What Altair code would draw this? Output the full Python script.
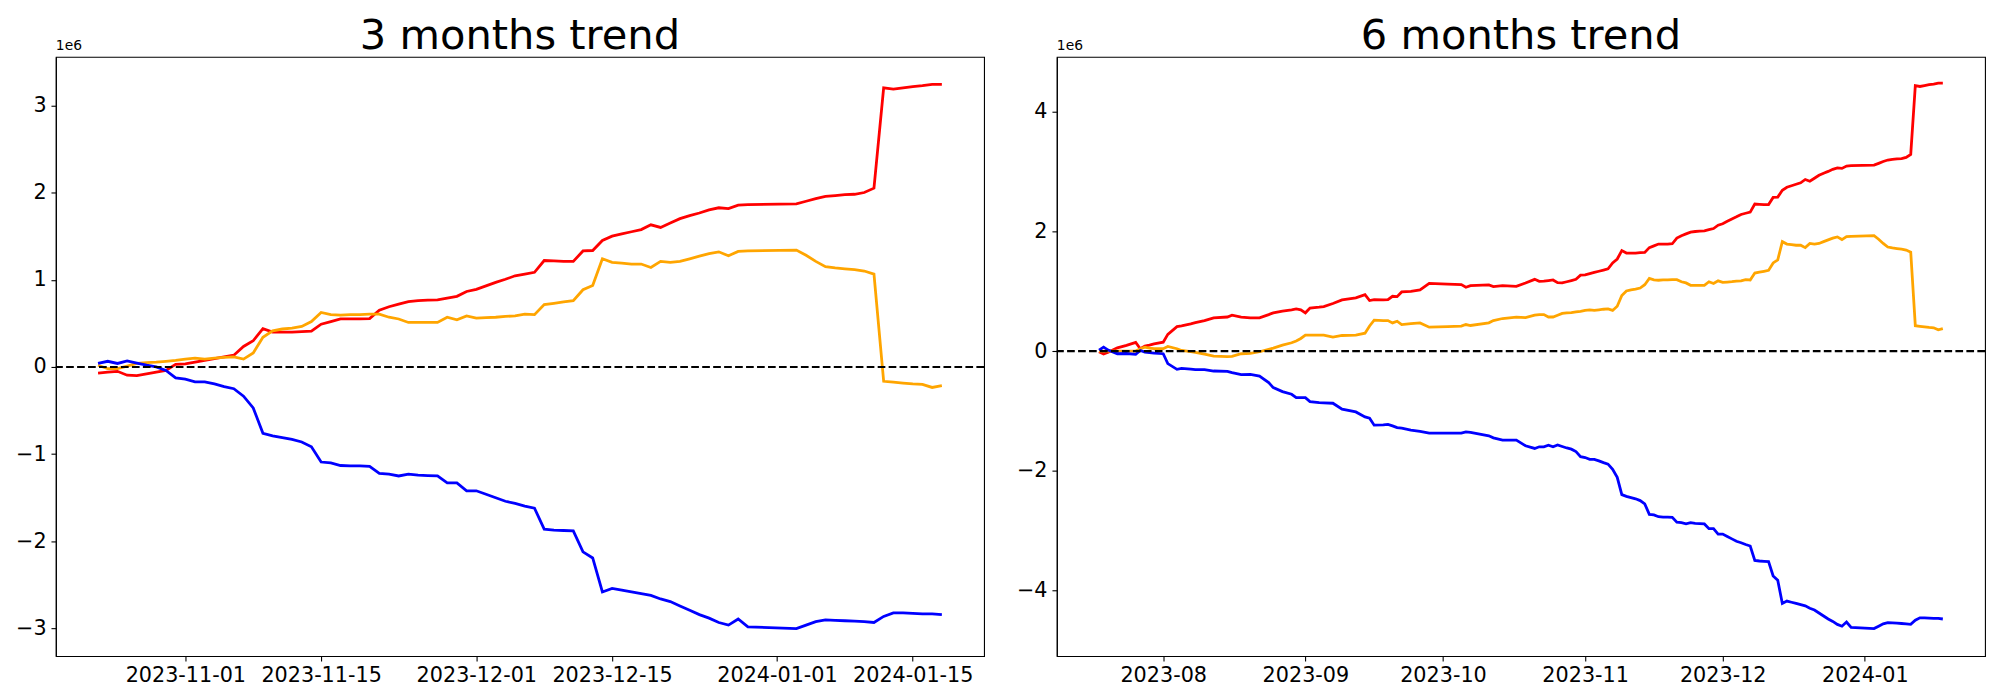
import altair as alt
import pandas as pd

# ---------------- 3 months panel (values in units of 1e6) ----------------
dates3 = [
    "2023-10-23", "2023-10-24", "2023-10-25", "2023-10-26", "2023-10-27", "2023-10-28", "2023-10-29", "2023-10-30", "2023-10-31",
    "2023-11-01", "2023-11-02", "2023-11-03", "2023-11-04", "2023-11-05", "2023-11-06", "2023-11-07", "2023-11-08", "2023-11-09", "2023-11-10",
    "2023-11-11", "2023-11-12", "2023-11-13", "2023-11-14", "2023-11-15", "2023-11-16", "2023-11-17", "2023-11-18", "2023-11-19", "2023-11-20",
    "2023-11-21", "2023-11-22", "2023-11-23", "2023-11-24", "2023-11-25", "2023-11-26", "2023-11-27", "2023-11-28", "2023-11-29", "2023-11-30",
    "2023-12-01", "2023-12-02", "2023-12-03", "2023-12-04", "2023-12-05", "2023-12-06", "2023-12-07", "2023-12-08", "2023-12-09", "2023-12-10",
    "2023-12-11", "2023-12-12", "2023-12-13", "2023-12-14", "2023-12-15", "2023-12-16", "2023-12-17", "2023-12-18", "2023-12-19", "2023-12-20",
    "2023-12-21", "2023-12-22", "2023-12-23", "2023-12-24", "2023-12-25", "2023-12-26", "2023-12-27", "2023-12-28", "2023-12-29",
    "2024-01-03", "2024-01-04", "2024-01-05", "2024-01-06", "2024-01-07", "2024-01-08", "2024-01-09", "2024-01-10", "2024-01-11",
    "2024-01-12", "2024-01-13", "2024-01-14", "2024-01-15", "2024-01-16", "2024-01-17", "2024-01-18",
]
red3 = [
    -0.07, -0.06, -0.05, -0.095, -0.10, -0.08, -0.06, -0.04, 0.03,
    0.035, 0.055, 0.075, 0.095, 0.115, 0.135, 0.235, 0.30, 0.44, 0.40,
    0.40, 0.40, 0.405, 0.41, 0.49, 0.52, 0.55, 0.55, 0.55, 0.555,
    0.65, 0.69, 0.72, 0.75, 0.76, 0.765, 0.77, 0.79, 0.81, 0.865,
    0.89, 0.93, 0.97, 1.005, 1.045, 1.065, 1.085, 1.22, 1.215, 1.21,
    1.21, 1.33, 1.335, 1.45, 1.50, 1.525, 1.55, 1.575, 1.63, 1.60,
    1.65, 1.70, 1.735, 1.765, 1.80, 1.825, 1.815, 1.855, 1.86,
    1.87, 1.90, 1.93, 1.955, 1.965, 1.975, 1.98, 2.0, 2.05,
    3.20, 3.185, 3.20, 3.215, 3.225, 3.24, 3.24,
]
orange3 = [
    0.02, -0.02, -0.02, 0.01, 0.04, 0.05, 0.055, 0.065, 0.075,
    0.09, 0.10, 0.09, 0.10, 0.11, 0.115, 0.09, 0.16, 0.34, 0.415,
    0.435, 0.445, 0.465, 0.52, 0.625, 0.60, 0.595, 0.60, 0.60, 0.605,
    0.605, 0.57, 0.55, 0.51, 0.51, 0.51, 0.51, 0.57, 0.54, 0.585,
    0.56, 0.565, 0.57, 0.58, 0.585, 0.605, 0.60, 0.715, 0.73, 0.745,
    0.76, 0.885, 0.935, 1.24, 1.20, 1.19, 1.18, 1.18, 1.14, 1.21,
    1.20, 1.21, 1.24, 1.27, 1.30, 1.32, 1.275, 1.325, 1.33,
    1.34, 1.28, 1.21, 1.15, 1.135, 1.125, 1.115, 1.10, 1.065,
    -0.165, -0.175, -0.185, -0.195, -0.20, -0.235, -0.215,
]
blue3 = [
    0.04, 0.065, 0.04, 0.07, 0.045, 0.02, 0.0, -0.04, -0.125,
    -0.14, -0.17, -0.17, -0.195, -0.225, -0.25, -0.335, -0.47, -0.76, -0.79,
    -0.81, -0.83, -0.86, -0.915, -1.09, -1.10, -1.13, -1.135, -1.135, -1.14,
    -1.22, -1.23, -1.25, -1.23, -1.24, -1.245, -1.25, -1.33, -1.33, -1.42,
    -1.42, -1.46, -1.50, -1.54, -1.565, -1.595, -1.62, -1.86, -1.87, -1.875,
    -1.88, -2.12, -2.19, -2.58, -2.54, -2.56, -2.58, -2.60, -2.62, -2.66,
    -2.69, -2.74, -2.79, -2.84, -2.88, -2.93, -2.96, -2.89, -2.98,
    -3.0, -2.96, -2.92, -2.90, -2.905, -2.91, -2.915, -2.92, -2.93,
    -2.86, -2.82, -2.82, -2.825, -2.83, -2.83, -2.84,
]

# ---------------- 6 months panel (values in units of 1e6) ----------------
dates6_head = [
    "2023-07-18", "2023-07-19", "2023-07-20", "2023-07-21", "2023-07-22",
    "2023-07-24", "2023-07-26", "2023-07-27", "2023-07-28", "2023-07-29", "2023-07-30",
    "2023-08-01", "2023-08-02", "2023-08-04", "2023-08-05",
    "2023-08-07", "2023-08-08", "2023-08-10", "2023-08-12",
    "2023-08-15", "2023-08-16", "2023-08-18", "2023-08-20", "2023-08-22",
    "2023-08-24", "2023-08-25", "2023-08-27", "2023-08-29", "2023-08-30", "2023-08-31", "2023-09-01", "2023-09-02",
    "2023-09-04", "2023-09-05", "2023-09-07", "2023-09-09", "2023-09-12", "2023-09-14", "2023-09-15", "2023-09-16",
    "2023-09-18", "2023-09-19", "2023-09-20", "2023-09-21", "2023-09-22", "2023-09-24", "2023-09-26", "2023-09-28",
    "2023-10-02", "2023-10-05", "2023-10-06", "2023-10-07", "2023-10-11", "2023-10-12", "2023-10-14",
    "2023-10-17", "2023-10-19", "2023-10-21", "2023-10-22",
]
dates6 = dates6_head + dates3
red6 = [
    -0.01, -0.05, -0.02, 0.02, 0.055,
    0.095, 0.145, 0.04, 0.083, 0.10, 0.12,
    0.15, 0.28, 0.41, 0.42,
    0.455, 0.475, 0.51, 0.555,
    0.57, 0.60, 0.57, 0.555, 0.555,
    0.61, 0.64, 0.67, 0.69, 0.705, 0.69, 0.64, 0.72,
    0.735, 0.745, 0.795, 0.855, 0.89, 0.945, 0.845, 0.86,
    0.855, 0.86, 0.917, 0.911, 0.989, 1.0, 1.022, 1.133,
    1.12, 1.111, 1.067, 1.094, 1.106, 1.078, 1.094,
    1.083, 1.139, 1.20, 1.167,
    1.17, 1.18, 1.19, 1.145, 1.14, 1.16, 1.18, 1.20, 1.27,
    1.275, 1.295, 1.315, 1.335, 1.355, 1.375, 1.475, 1.54, 1.68, 1.64,
    1.64, 1.64, 1.645, 1.65, 1.73, 1.76, 1.79, 1.79, 1.79, 1.795,
    1.89, 1.93, 1.96, 1.99, 2.00, 2.005, 2.01, 2.03, 2.05, 2.105,
    2.13, 2.17, 2.21, 2.245, 2.285, 2.305, 2.325, 2.46, 2.455, 2.45,
    2.45, 2.57, 2.575, 2.69, 2.74, 2.765, 2.79, 2.815, 2.87, 2.84,
    2.89, 2.94, 2.975, 3.005, 3.04, 3.065, 3.055, 3.095, 3.10,
    3.11, 3.14, 3.17, 3.195, 3.205, 3.215, 3.22, 3.24, 3.29,
    4.44, 4.425, 4.44, 4.455, 4.465, 4.48, 4.48,
]
orange6 = [
    0.0, 0.0, 0.0, 0.0, 0.0,
    0.0, 0.0, 0.04, 0.067, 0.05, 0.04,
    0.04, 0.078, 0.04, 0.01,
    -0.01, -0.02, -0.05, -0.085,
    -0.093, -0.089, -0.044, -0.039, -0.011,
    0.03, 0.05, 0.10, 0.139, 0.17, 0.211, 0.267, 0.267,
    0.267, 0.267, 0.233, 0.261, 0.267, 0.30, 0.42, 0.517,
    0.511, 0.511, 0.472, 0.50, 0.444, 0.458, 0.472, 0.40,
    0.41, 0.417, 0.444, 0.428, 0.472, 0.51, 0.545,
    0.567, 0.56, 0.60, 0.611,
    0.61, 0.57, 0.57, 0.60, 0.63, 0.64, 0.645, 0.655, 0.665,
    0.68, 0.69, 0.68, 0.69, 0.70, 0.705, 0.68, 0.75, 0.93, 1.005,
    1.025, 1.035, 1.055, 1.11, 1.215, 1.19, 1.185, 1.19, 1.19, 1.195,
    1.195, 1.16, 1.14, 1.10, 1.10, 1.10, 1.10, 1.16, 1.13, 1.175,
    1.15, 1.155, 1.16, 1.17, 1.175, 1.195, 1.19, 1.305, 1.32, 1.335,
    1.35, 1.475, 1.525, 1.83, 1.79, 1.78, 1.77, 1.77, 1.73, 1.80,
    1.79, 1.80, 1.83, 1.86, 1.89, 1.91, 1.865, 1.915, 1.92,
    1.93, 1.87, 1.80, 1.74, 1.725, 1.715, 1.705, 1.69, 1.655,
    0.425, 0.415, 0.405, 0.395, 0.39, 0.355, 0.375,
]
blue6 = [
    0.017, 0.067, 0.017, -0.015, -0.044,
    -0.04, -0.055, 0.01, -0.017, -0.025, -0.033,
    -0.044, -0.21, -0.305, -0.289,
    -0.30, -0.31, -0.311, -0.333,
    -0.339, -0.36, -0.394, -0.39, -0.417,
    -0.528, -0.611, -0.678, -0.722, -0.778, -0.778, -0.778, -0.844,
    -0.861, -0.865, -0.872, -0.972, -1.017, -1.10, -1.122, -1.239,
    -1.233, -1.225, -1.25, -1.28, -1.29, -1.32, -1.344, -1.372,
    -1.372, -1.372, -1.35, -1.36, -1.417, -1.45, -1.489,
    -1.489, -1.583, -1.628, -1.60,
    -1.60, -1.575, -1.60, -1.57, -1.595, -1.62, -1.64, -1.68, -1.765,
    -1.78, -1.81, -1.81, -1.835, -1.865, -1.89, -1.975, -2.11, -2.40, -2.43,
    -2.45, -2.47, -2.50, -2.555, -2.73, -2.74, -2.77, -2.775, -2.775, -2.78,
    -2.86, -2.87, -2.89, -2.87, -2.88, -2.885, -2.89, -2.97, -2.97, -3.06,
    -3.06, -3.10, -3.14, -3.18, -3.205, -3.235, -3.26, -3.50, -3.51, -3.515,
    -3.52, -3.76, -3.83, -4.22, -4.18, -4.20, -4.22, -4.24, -4.26, -4.30,
    -4.33, -4.38, -4.43, -4.48, -4.52, -4.57, -4.60, -4.53, -4.62,
    -4.64, -4.60, -4.56, -4.54, -4.545, -4.55, -4.555, -4.56, -4.57,
    -4.50, -4.46, -4.46, -4.465, -4.47, -4.47, -4.48,
]

series_names = ["red", "orange", "blue"]
series_colors = ["#ff0000", "#ffa500", "#0000ff"]

ticks3 = ["2023-11-01", "2023-11-15", "2023-12-01", "2023-12-15", "2024-01-01", "2024-01-15"]
ticks6 = ["2023-08-01", "2023-09-01", "2023-10-01", "2023-11-01", "2023-12-01", "2024-01-01"]
yticks3 = [-3, -2, -1, 0, 1, 2, 3]
yticks6 = [-4, -2, 0, 2, 4]

FONT = "DejaVu Sans"
PW, PH = 931, 601


def long_df(dates, red, orange, blue):
    assert len(dates) == len(red) == len(orange) == len(blue)
    rows = []
    for name, vals in zip(series_names, (red, orange, blue)):
        for d, v in zip(dates, vals):
            rows.append({"date": d, "value": v, "series": name})
    return pd.DataFrame(rows)


def dt(s, h=0, m=0):
    y, mo, d = (int(p) for p in s.split("-"))
    return alt.DateTime(year=y, month=mo, date=d, hours=h, minutes=m, utc=True)


def panel(df, title, xdom, xticks, xfmt, ydom, yticks):
    x = alt.X(
        "date:T",
        scale=alt.Scale(type="utc", domain=xdom, nice=False),
        axis=alt.Axis(
            values=[dt(t) for t in xticks],
            labelExpr=f"utcFormat(datum.value, '{xfmt}')",
            title=None,
        ),
    )
    y = alt.Y(
        "value:Q",
        scale=alt.Scale(domain=ydom, nice=False, zero=False),
        axis=alt.Axis(
            values=yticks,
            labelExpr="replace(format(datum.value, 'd'), '-', '\u2212')",
            title=None,
        ),
    )
    lines = alt.Chart(df).mark_line(strokeWidth=2.8, clip=True).encode(
        x=x,
        y=y,
        color=alt.Color(
            "series:N",
            scale=alt.Scale(domain=series_names, range=series_colors),
            legend=None,
        ),
    )
    zero = alt.Chart(pd.DataFrame({"value": [0.0]})).mark_rule(
        color="black", strokeWidth=2.1, strokeDash=[7.7, 3.3]
    ).encode(y=alt.Y("value:Q"))
    offset_txt = alt.Chart(pd.DataFrame({"t": ["1e6"]})).mark_text(
        align="left", baseline="bottom", fontSize=13.9, font=FONT, color="black"
    ).encode(x=alt.value(0), y=alt.value(-4), text="t:N")
    title_txt = alt.Chart(pd.DataFrame({"t": [title]})).mark_text(
        align="center", baseline="alphabetic", fontSize=41.7, font=FONT, color="black"
    ).encode(x=alt.value(PW / 2), y=alt.value(-8), text="t:N")
    return alt.layer(lines, zero, offset_txt, title_txt).properties(width=PW, height=PH)


left = panel(
    long_df(dates3, red3, orange3, blue3),
    "3 months trend",
    [dt("2023-10-18", 15, 36), dt("2024-01-22", 8, 24)],
    ticks3, "%Y-%m-%d",
    [-3.315, 3.555], yticks3,
)
right = panel(
    long_df(dates6, red6, orange6, blue6),
    "6 months trend",
    [dt("2023-07-08", 19, 12), dt("2024-01-27", 4, 48)],
    ticks6, "%Y-%m",
    [-5.10, 4.92], yticks6,
)

chart = (
    alt.hconcat(left, right, spacing=29)
    .properties(padding={"left": 6, "top": 6, "right": 5, "bottom": 5}, background="white")
    .configure_view(stroke="black", strokeWidth=1.1)
    .configure_axis(
        grid=False,
        domainColor="black",
        domainWidth=1.1,
        tickColor="black",
        tickWidth=1.1,
        tickSize=4.9,
        labelFont=FONT,
        labelFontSize=20.8,
        labelColor="black",
        labelPadding=4.9,
        labelOverlap=False,
        labelFlush=False,
        labelBound=False,
    )
)

chart.save("out.html", embed_options={"renderer": "svg", "actions": False})
